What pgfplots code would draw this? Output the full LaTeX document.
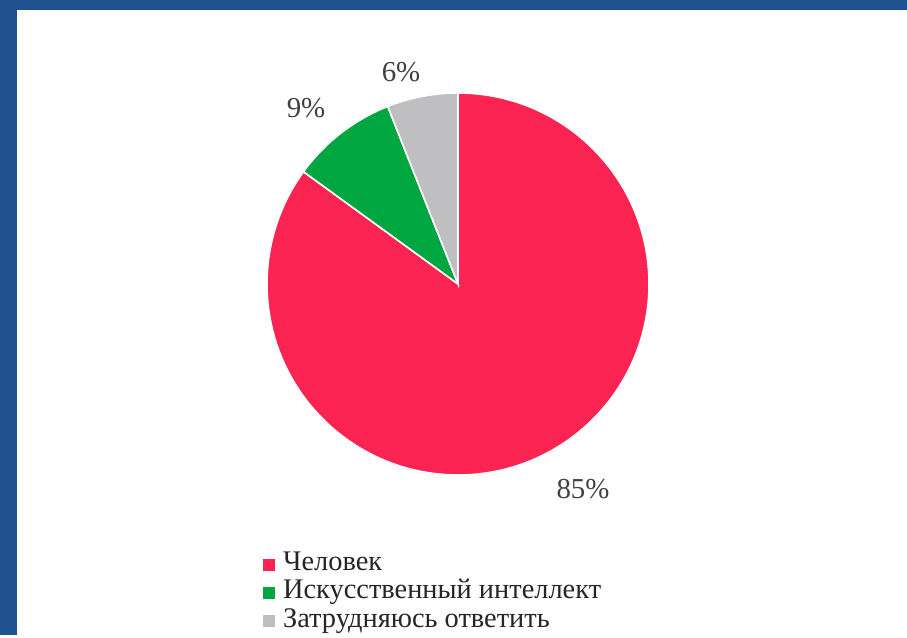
\documentclass[border=0pt]{standalone}
\usepackage{fontspec}
\setmainfont{Liberation Serif}
\usepackage{pgfplots}
\usepackage{pgfplotstable}
\pgfplotsset{compat=1.18}

\definecolor{frameblue}{RGB}{31,82,142}
\definecolor{piered}{RGB}{250,35,82}
\definecolor{piegreen}{RGB}{0,166,64}
\definecolor{piegray}{RGB}{191,190,192}

\pgfplotstableread[col sep=comma]{
name,pct
Человек,85
Искусственный интеллект,9
Затрудняюсь ответить,6
}\piedata

\begin{document}
\begin{tikzpicture}
% slice angles, clockwise from the top
\pgfplotstablegetelem{0}{pct}\of\piedata \let\pA\pgfplotsretval
\pgfplotstablegetelem{1}{pct}\of\piedata \let\pB\pgfplotsretval
\pgfplotstablegetelem{2}{pct}\of\piedata \let\pC\pgfplotsretval
\pgfmathsetmacro\aS{90}
\pgfmathsetmacro\aA{90-3.6*\pA}
\pgfmathsetmacro\aB{\aA-3.6*\pB}
\pgfmathsetmacro\aC{\aB-3.6*\pC}

\fill[frameblue] (0,0) rectangle (907bp,635bp);
\fill[white] (17bp,0) rectangle (907bp,625bp);

\begin{axis}[
    at={(0,0)}, anchor=south west,
    scale only axis, width=907bp, height=635bp,
    xmin=0, xmax=907, ymin=0, ymax=635,
    hide axis, clip=false,
    legend style={
        at={(axis cs:260,87)}, anchor=north west,
        draw=none, fill=none,
        nodes={font=\rmfamily\fontsize{28.5}{30}\selectfont, text=black!85,
               inner sep=0.5bp, text height=20bp, text depth=7.3bp},
    },
    legend cell align=left,
    legend image code/.code={\fill[#1] (0bp,-5.5bp) rectangle (11bp,5.5bp);
        \path (19bp,0bp);},
]
\addlegendimage{piered}
\addlegendentry{Человек}
\addlegendimage{piegreen}
\addlegendentry{Искусственный интеллект}
\addlegendimage{piegray}
\addlegendentry{Затрудняюсь ответить}

\fill[piered, draw=white, line width=1.6bp] (axis cs:458,351) -- ++(\aS:191bp)
    arc[start angle=\aS, end angle=\aA, radius=191bp] -- cycle;
\fill[piegreen, draw=white, line width=1.6bp] (axis cs:458,351) -- ++(\aA:191bp)
    arc[start angle=\aA, end angle=\aB, radius=191bp] -- cycle;
\fill[piegray, draw=white, line width=1.6bp] (axis cs:458,351) -- ++(\aB:191bp)
    arc[start angle=\aB, end angle=\aC, radius=191bp] -- cycle;

\node[font=\rmfamily\fontsize{29}{32}\selectfont, text=black!75] at (axis cs:401,563) {\pC\%};
\node[font=\rmfamily\fontsize{29}{32}\selectfont, text=black!75] at (axis cs:306,527) {\pB\%};
\node[font=\rmfamily\fontsize{29}{32}\selectfont, text=black!75] at (axis cs:583,146) {\pA\%};
\end{axis}
\end{tikzpicture}
\end{document}
